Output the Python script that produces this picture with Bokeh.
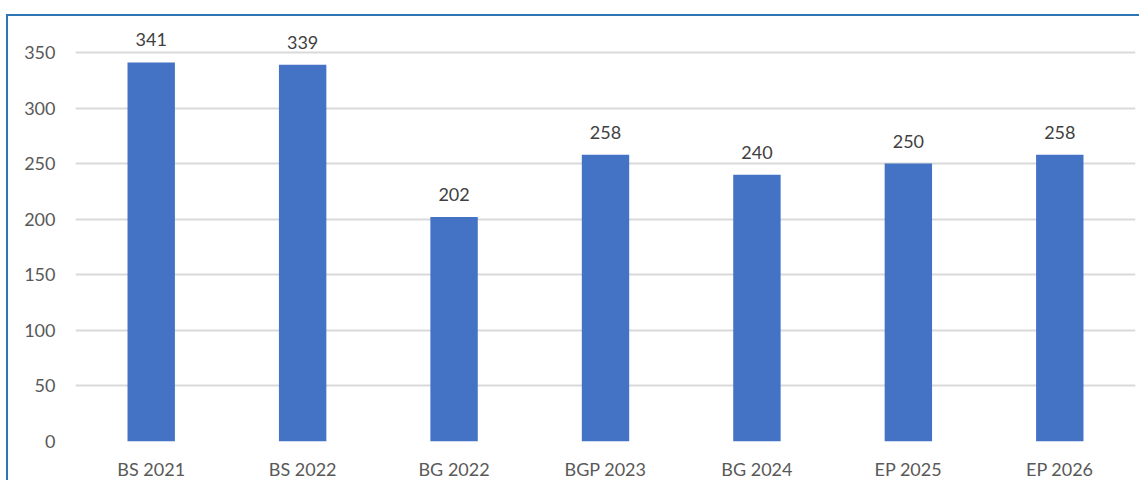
from bokeh.plotting import figure
from bokeh.models import ColumnDataSource, LabelSet, FixedTicker, Range1d
from bokeh.core.properties import value
from bokeh.embed import file_html
from bokeh.resources import INLINE

categories = ["BS 2021", "BS 2022", "BG 2022", "BGP 2023", "BG 2024", "EP 2025", "EP 2026"]
values = [341, 339, 202, 258, 240, 250, 258]
y_ticks = [0, 50, 100, 150, 200, 250, 300, 350]

source = ColumnDataSource(data=dict(cat=categories, val=values, lbl=[str(v) for v in values]))

# frame: 416 px tall, 350 units = 390 px -> top of range = 416 * 350 / 390
y_top = 416 * 350 / 390

p = figure(
    x_range=categories,
    y_range=Range1d(0, y_top),
    width=1133,
    height=466,
    output_backend="svg",
    toolbar_location=None,
    min_border_left=67,
    min_border_right=6,
    min_border_top=10,
    min_border_bottom=38,
    styles={
        "border-top": "2px solid #2E75B6",
        "border-left": "2px solid #2E75B6",
        "margin-top": "14px",
        "margin-left": "6px",
    },
)

p.vbar(x="cat", top="val", width=0.313, source=source, color="#4472C4", line_color=None)

labels = LabelSet(
    x="cat", y="val", text="lbl", source=source,
    y_offset=16, text_align="center", text_baseline="alphabetic",
    text_font=value("Lato"), text_font_size="18px", text_color="#404040",
)
p.add_layout(labels)

p.outline_line_color = None
p.background_fill_color = "white"
p.border_fill_color = "white"

p.xgrid.grid_line_color = None
p.ygrid.grid_line_color = "#D9D9D9"
p.ygrid.grid_line_width = 2
p.ygrid.ticker = FixedTicker(ticks=y_ticks)

p.yaxis.ticker = FixedTicker(ticks=y_ticks)
p.yaxis.axis_line_color = None
p.yaxis.major_tick_line_color = None
p.yaxis.minor_tick_line_color = None
p.yaxis.major_tick_out = 0
p.yaxis.major_label_standoff = 20
p.yaxis.major_label_text_font = "Lato"
p.yaxis.major_label_text_font_size = "18px"
p.yaxis.major_label_text_color = "#595959"

p.xaxis.axis_line_color = None
p.xaxis.major_tick_line_color = None
p.xaxis.minor_tick_line_color = None
p.xaxis.major_tick_out = 0
p.xaxis.major_label_standoff = 16
p.xaxis.major_label_text_font = "Lato"
p.xaxis.major_label_text_font_size = "18px"
p.xaxis.major_label_text_color = "#595959"

p.x_range.range_padding = 0

open("out.html", "w").write(file_html(p, INLINE))
